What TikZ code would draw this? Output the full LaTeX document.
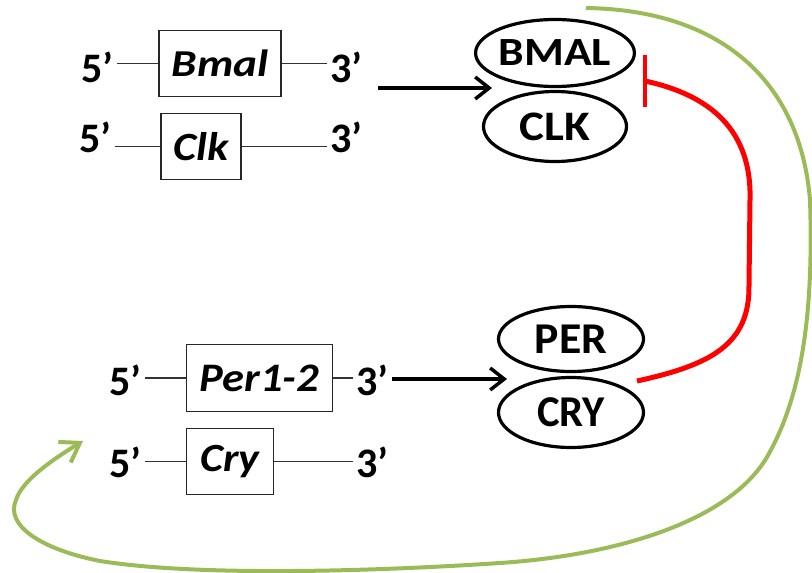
\documentclass[tikz,border=0pt]{standalone}
\usepackage{fontspec}
\usepackage{graphicx}
\setmainfont{Carlito}
\usetikzlibrary{arrows.meta,shapes.geometric}
\definecolor{lgreen}{RGB}{155,187,89}
\newcommand{\fsz}[1]{\fontsize{#1}{#1}\selectfont}
\newcommand{\hs}[2]{\scalebox{#1}[1]{#2}}
\begin{document}
\begin{tikzpicture}[x=1pt,y=-1pt,
  lab/.style={font=\fsz{42}\bfseries, inner ysep=0pt, inner xsep=3pt},
  genebox/.style={draw=black!85, line width=1.1pt, inner sep=0pt},
  prot/.style={draw, ellipse, line width=3.2pt, inner sep=0pt},
  wire/.style={draw=black!80, line width=1.1pt},
  fwd/.style={line width=3.5pt, -{Straight Barb[length=14pt,width=22pt]}},
]
\useasboundingbox (0,0) rectangle (812,573);

% gene boxes
\node[genebox, minimum width=122pt, minimum height=66pt, font=\fsz{38}\bfseries\itshape] (gBmal) at (220,63.5) {\hs{1.19}{Bmal}};
\node[genebox, minimum width=80pt, minimum height=66pt, font=\fsz{40}\bfseries\itshape] (gClk) at (201,146.5) {\hs{1.11}{Clk}};
\node[genebox, minimum width=146pt, minimum height=67pt, font=\fsz{40.5}\bfseries\itshape] (gPer) at (259.5,378) {\hs{1.10}{Per1-2}};
\node[genebox, minimum width=87pt, minimum height=66pt, font=\fsz{40}\bfseries\itshape] (gCry) at (230,461.5) {\hs{1.10}{Cry}};

% 5' / 3' labels
\node[lab, anchor=base east] (b5) at (117,82) {5’};
\node[lab, anchor=base west] (b3) at (327,82) {3’};
\node[lab, anchor=base east] (c5) at (115,152) {5’};
\node[lab, anchor=base west] (c3) at (327,152) {3’};
\node[lab, anchor=base east] (p5) at (145,395) {5’};
\node[lab, anchor=base west] (p3) at (353,395) {3’};
\node[lab, anchor=base east] (r5) at (145,477) {5’};
\node[lab, anchor=base west] (r3) at (353,477) {3’};

\draw[wire] (b5.east |- gBmal.west) -- (gBmal.west);
\draw[wire] (gBmal.east) -- (gBmal.east -| b3.west);
\draw[wire] (c5.east |- gClk.west) -- (gClk.west);
\draw[wire] (gClk.east) -- (gClk.east -| c3.west);
\draw[wire] (p5.east |- gPer.west) -- (gPer.west);
\draw[wire] (gPer.east) -- (gPer.east -| p3.west);
\draw[wire] (r5.east |- gCry.west) -- (gCry.west);
\draw[wire] (gCry.east) -- (gCry.east -| r3.west);

% proteins
\node[prot, minimum width=143pt, minimum height=67pt, font=\fsz{40}\bfseries] (pBMAL) at (555,53) {\hs{1.14}{BMAL}};
\node[prot, minimum width=143pt, minimum height=70pt, font=\fsz{42}\bfseries] (pCLK) at (555,126.5) {\hs{1.12}{CLK}};
\node[prot, minimum width=145pt, minimum height=65pt, font=\fsz{44}\bfseries] (pPER) at (571,339) {\hs{1.04}{PER}};
\node[prot, minimum width=145pt, minimum height=70pt, font=\fsz{44}\bfseries] (pCRY) at (571,412.5) {\hs{0.97}{CRY}};

% forward arrows
\coordinate (a1) at (378,88);
\coordinate (t1) at (492,88);
\coordinate (t2) at (507,379);
\draw[fwd] (a1) -- (t1);
\draw[fwd] (p3.east |- t2) -- (t2);

% red inhibition
\coordinate (rs) at (637,381);
\coordinate (rb) at (645,81);
\draw[red, line width=5pt] (rs) .. controls (710,365) and (750,345) .. (749,285)
  -- (750,200) .. controls (752,130) and (710,95) .. (rb);
\draw[red, line width=4.5pt] ([yshift=26pt]rb) -- ([yshift=-26pt]rb);

% green feedback
\coordinate (gs) at (586,8);
\coordinate (ge) at (83,441);
\draw[lgreen, line width=4pt, -{Straight Barb[length=18pt,width=24pt]}]
  (gs) .. controls (720,10) and (800,80) .. (810,200)
  .. controls (814,320) and (800,400) .. (767,457)
  .. controls (730,520) and (620,555) .. (500,563)
  .. controls (380,571) and (200,577) .. (100,561)
  .. controls (40,549) and (5,525) .. (16,500)
  .. controls (22,480) and (55,458) .. (ge);
\end{tikzpicture}
\end{document}
